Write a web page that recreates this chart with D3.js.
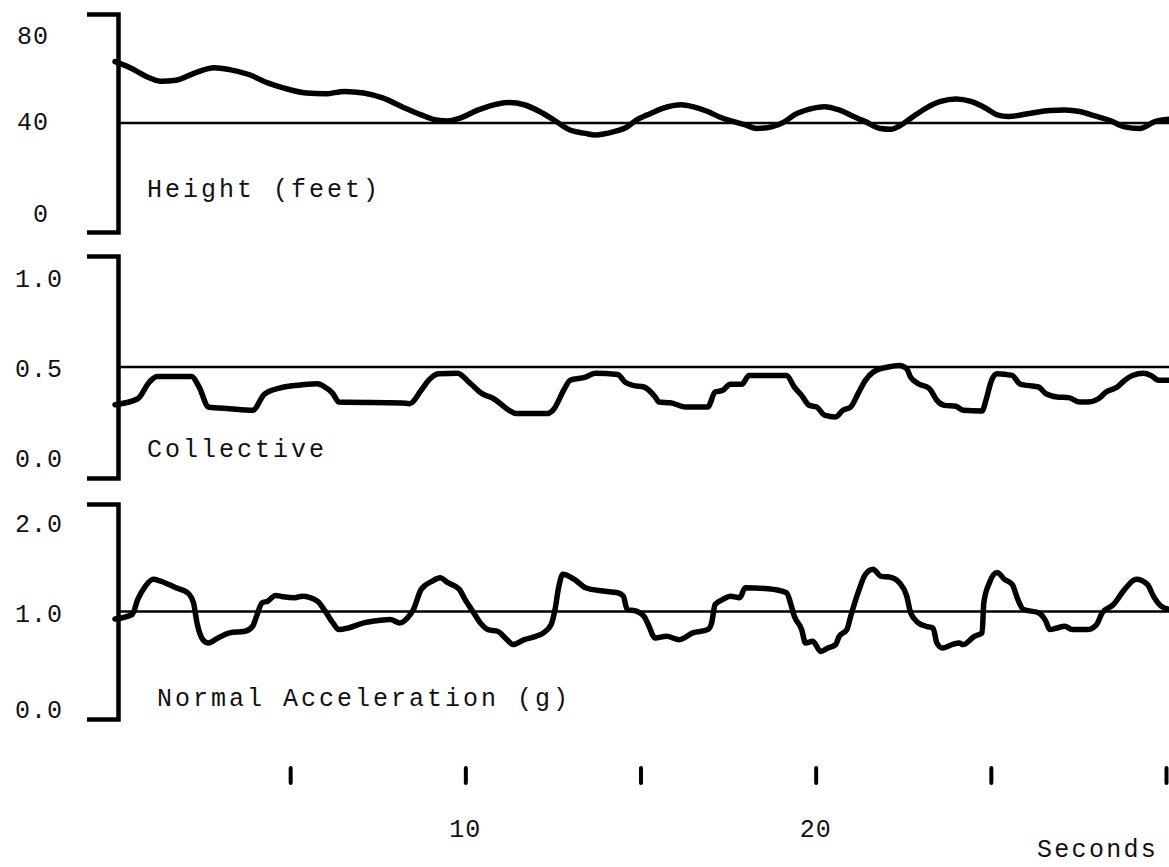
<!DOCTYPE html>
<html>
<head>
<meta charset="utf-8">
<script src="https://cdn.jsdelivr.net/npm/d3@7"></script>
<style>
    body { margin: 0; background: #fff; }
    svg { display: block; }
    text { font-family: "Liberation Mono", "DejaVu Sans Mono", monospace; fill: #111; }
</style>
</head>
<body>
<div id="chart"></div>
<script>
// [seconds, value]
var heightData = [
    [0, 62.5], [0.43, 60.3], [0.98, 56.6], [1.30, 55.3], [1.74, 55.7], [2.29, 58.4], [2.83, 60.3],
    [3.27, 59.6], [3.82, 57.8], [4.36, 54.7], [4.80, 52.9], [5.46, 51.0], [6.00, 50.7], [6.55, 51.6],
    [7.10, 51.0], [7.64, 49.2], [8.19, 46.0], [8.74, 43.0], [9.17, 41.1], [9.50, 40.7], [9.83, 41.7],
    [10.37, 44.8], [10.92, 47.0], [11.25, 47.5], [11.68, 46.7], [12.12, 44.2], [12.45, 41.7],
    [12.67, 39.9], [12.99, 37.4], [13.43, 36.2], [13.70, 35.6], [14.24, 36.8], [14.62, 38.6],
    [14.88, 41.1], [15.20, 43.0], [15.63, 45.4], [16.17, 46.7], [16.49, 46.0], [16.92, 44.2],
    [17.24, 42.3], [17.56, 40.9], [17.99, 39.3], [18.32, 38.0], [18.74, 38.6], [19.12, 40.5],
    [19.39, 43.0], [19.82, 45.1], [20.25, 46.0], [20.67, 44.8], [21.10, 42.3], [21.42, 40.5],
    [21.85, 38.0], [22.17, 37.7], [22.39, 38.9], [22.71, 41.7], [23.14, 45.4], [23.57, 47.9],
    [24.00, 48.8], [24.43, 47.9], [24.86, 45.4], [25.18, 43.0], [25.50, 42.4], [26.14, 43.6],
    [26.68, 44.6], [27.11, 44.8], [27.54, 44.2], [27.97, 42.6], [28.40, 40.9], [28.82, 38.6],
    [29.25, 38.0], [29.68, 40.5], [30.10, 41.4]
];

var collectiveData = [
    [0, 0.33], [0.65, 0.357], [0.98, 0.432], [1.20, 0.457], [2.18, 0.457], [2.40, 0.41], [2.67, 0.32],
    [3.27, 0.312], [3.93, 0.305], [4.26, 0.377], [4.69, 0.405], [5.35, 0.42], [5.78, 0.425],
    [5.95, 0.414], [6.22, 0.38], [6.39, 0.342], [8.19, 0.338], [8.41, 0.335], [8.74, 0.395],
    [8.95, 0.44], [9.23, 0.47], [9.77, 0.472], [10.15, 0.425], [10.48, 0.38], [10.81, 0.357],
    [11.25, 0.305], [11.46, 0.29], [12.34, 0.29], [12.50, 0.305], [12.83, 0.402], [12.99, 0.44],
    [13.43, 0.454], [13.70, 0.472], [14.35, 0.466], [14.56, 0.432], [14.78, 0.417], [15.10, 0.41],
    [15.42, 0.365], [15.53, 0.342], [15.85, 0.339], [16.28, 0.32], [16.92, 0.32], [17.13, 0.387],
    [17.35, 0.395], [17.56, 0.422], [17.89, 0.422], [18.10, 0.462], [19.17, 0.462], [19.39, 0.41],
    [19.60, 0.372], [19.82, 0.327], [20.03, 0.32], [20.25, 0.283], [20.57, 0.275], [20.78, 0.305],
    [21.00, 0.32], [21.21, 0.38], [21.42, 0.44], [21.64, 0.477], [22.07, 0.50], [22.39, 0.507],
    [22.60, 0.492], [22.71, 0.454], [22.93, 0.425], [23.25, 0.402], [23.46, 0.35], [23.68, 0.327],
    [24.00, 0.323], [24.21, 0.305], [24.75, 0.302], [24.86, 0.35], [25.02, 0.44], [25.18, 0.47],
    [25.61, 0.462], [25.82, 0.425], [26.03, 0.417], [26.36, 0.41], [26.57, 0.38], [26.89, 0.365],
    [27.22, 0.362], [27.54, 0.342], [27.75, 0.342], [28.07, 0.357], [28.29, 0.387], [28.61, 0.41],
    [28.82, 0.44], [29.04, 0.462], [29.36, 0.472], [29.57, 0.462], [29.79, 0.44], [30.10, 0.44]
];

var accelData = [
    [0, 0.93], [0.49, 0.972], [0.65, 1.112], [0.87, 1.236], [1.09, 1.299], [1.30, 1.283], [1.74, 1.221],
    [2.07, 1.175], [2.24, 1.081], [2.34, 0.894], [2.51, 0.738], [2.67, 0.707], [2.94, 0.754],
    [3.27, 0.801], [3.71, 0.816], [3.93, 0.863], [4.04, 0.956], [4.20, 1.081], [4.36, 1.096],
    [4.58, 1.15], [4.80, 1.137], [5.13, 1.128], [5.35, 1.143], [5.78, 1.096], [6.00, 1.003],
    [6.22, 0.894], [6.39, 0.832], [6.66, 0.847], [7.10, 0.894], [7.53, 0.916], [7.86, 0.925],
    [8.13, 0.894], [8.35, 0.941], [8.52, 1.019], [8.74, 1.206], [9.06, 1.283], [9.28, 1.315],
    [9.50, 1.268], [9.83, 1.206], [9.99, 1.112], [10.21, 1.003], [10.43, 0.894], [10.65, 0.832],
    [10.92, 0.816], [11.19, 0.738], [11.36, 0.692], [11.68, 0.738], [12.01, 0.769], [12.23, 0.801],
    [12.45, 0.879], [12.56, 1.019], [12.67, 1.236], [12.78, 1.346], [13.11, 1.299], [13.43, 1.221],
    [13.92, 1.19], [14.35, 1.175], [14.51, 1.143], [14.62, 1.019], [14.88, 1.003], [15.10, 0.956],
    [15.20, 0.894], [15.42, 0.754], [15.74, 0.769], [16.11, 0.738], [16.49, 0.801], [16.92, 0.832],
    [17.03, 0.894], [17.13, 1.065], [17.35, 1.112], [17.56, 1.143], [17.83, 1.128], [17.99, 1.221],
    [18.64, 1.212], [19.17, 1.175], [19.28, 1.081], [19.39, 0.956], [19.60, 0.832], [19.71, 0.707],
    [19.92, 0.723], [20.14, 0.629], [20.35, 0.66], [20.57, 0.692], [20.67, 0.769], [20.89, 0.832],
    [21.00, 0.956], [21.21, 1.175], [21.42, 1.346], [21.64, 1.393], [21.85, 1.33], [22.17, 1.315],
    [22.39, 1.268], [22.60, 1.143], [22.71, 0.988], [22.93, 0.894], [23.14, 0.863], [23.35, 0.847],
    [23.46, 0.707], [23.62, 0.66], [23.89, 0.692], [24.10, 0.707], [24.21, 0.692], [24.53, 0.769],
    [24.75, 0.801], [24.80, 1.081], [24.96, 1.268], [25.18, 1.362], [25.39, 1.299], [25.61, 1.252],
    [25.77, 1.112], [25.93, 1.019], [26.36, 0.988], [26.57, 0.909], [26.68, 0.832], [26.89, 0.847],
    [27.11, 0.863], [27.32, 0.832], [27.75, 0.832], [28.02, 0.879], [28.18, 0.988], [28.50, 1.065],
    [28.82, 1.206], [29.15, 1.299], [29.47, 1.252], [29.64, 1.143], [29.86, 1.05], [30.10, 1.019]
];

var heightTicks = [0, 40, 80];
var collectiveTicks = [0, 0.5, 1.0];
var accelTicks = [0, 1.0, 2.0];
var timeTicks = [5, 10, 15, 20, 25, 30];
var timeLabels = [10, 20];

var width = 1169, height = 867;

var svg = d3.select("#chart").append("svg")
    .attr("width", width)
    .attr("height", height);

var x = d3.scaleLinear().domain([0, 30]).range([115, 1166]);
var xEnd = x.invert(width);

var panels = [
    {data: heightData, domain: [0, 80], ticks: heightTicks, ref: 40, top: 14, bottom: 232,
     labelRight: 49, labelShift: [-10, 7, 30], fmt: d3.format("d"),
     title: "Height (feet)", titleX: 147, titleY: 197},
    {data: collectiveData, domain: [0, 1], ticks: collectiveTicks, ref: 0.5, top: 256, bottom: 478,
     labelRight: 63, labelShift: [-11, 10, 31], fmt: d3.format(".1f"),
     title: "Collective", titleX: 147, titleY: 457},
    {data: accelData, domain: [0, 2], ticks: accelTicks, ref: 1.0, top: 504, bottom: 719,
     labelRight: 63, labelShift: [-1, 10, 28], fmt: d3.format(".1f"),
     title: "Normal Acceleration (g)", titleX: 157, titleY: 706}
];

panels.forEach(function(p) {
    var y = d3.scaleLinear().domain(p.domain).range([p.bottom, p.top]);
    var g = svg.append("g");

    // bracket = axis domain path with long outer ticks
    var bracket = g.append("g")
        .attr("transform", "translate(" + (x(0) + 3) + ",0)")
        .call(d3.axisLeft(y).tickValues([]).tickSizeOuter(31));
    bracket.select(".domain")
        .attr("stroke", "#000")
        .attr("stroke-width", 4.5)
        .attr("fill", "none");

    g.append("line")
        .attr("x1", x(0) + 3).attr("x2", x(xEnd))
        .attr("y1", y(p.ref)).attr("y2", y(p.ref))
        .attr("stroke", "#000")
        .attr("stroke-width", 2.6);

    var line = d3.line()
        .x(function(d) { return x(d[0]); })
        .y(function(d) { return y(d[1]); })
        .curve(d3.curveMonotoneX);

    g.append("path")
        .datum(p.data)
        .attr("d", line)
        .attr("fill", "none")
        .attr("stroke", "#000")
        .attr("stroke-width", 5.5)
        .attr("stroke-linejoin", "round")
        .attr("stroke-linecap", "round");

    g.selectAll(".ylab")
        .data(p.ticks)
        .enter().append("text")
        .attr("class", "ylab")
        .attr("x", p.labelRight)
        .attr("y", function(d, i) { return y(d) + p.labelShift[i]; })
        .attr("text-anchor", "end")
        .attr("font-size", 25)
        .attr("letter-spacing", 1)
        .text(function(d) { return p.fmt(d); });

    g.append("text")
        .attr("x", p.titleX)
        .attr("y", p.titleY)
        .attr("font-size", 25)
        .attr("letter-spacing", 3)
        .text(p.title);
});

// time ticks along the bottom
var tickAxis = svg.append("g")
    .attr("transform", "translate(0,768)")
    .call(d3.axisBottom(x).tickValues(timeTicks).tickSize(15).tickFormat(""));
tickAxis.select(".domain").remove();
tickAxis.selectAll(".tick line")
    .attr("stroke", "#000")
    .attr("stroke-width", 4)
    .attr("stroke-linecap", "round");

svg.selectAll(".tlab")
    .data(timeLabels)
    .enter().append("text")
    .attr("class", "tlab")
    .attr("x", function(d) { return x(d); })
    .attr("y", 837)
    .attr("text-anchor", "middle")
    .attr("font-size", 25)
    .attr("letter-spacing", 1)
    .text(function(d) { return d; });

svg.append("text")
    .attr("x", 1037)
    .attr("y", 857)
    .attr("font-size", 25)
    .attr("letter-spacing", 2.3)
    .text("Seconds");
</script>
</body>
</html>
